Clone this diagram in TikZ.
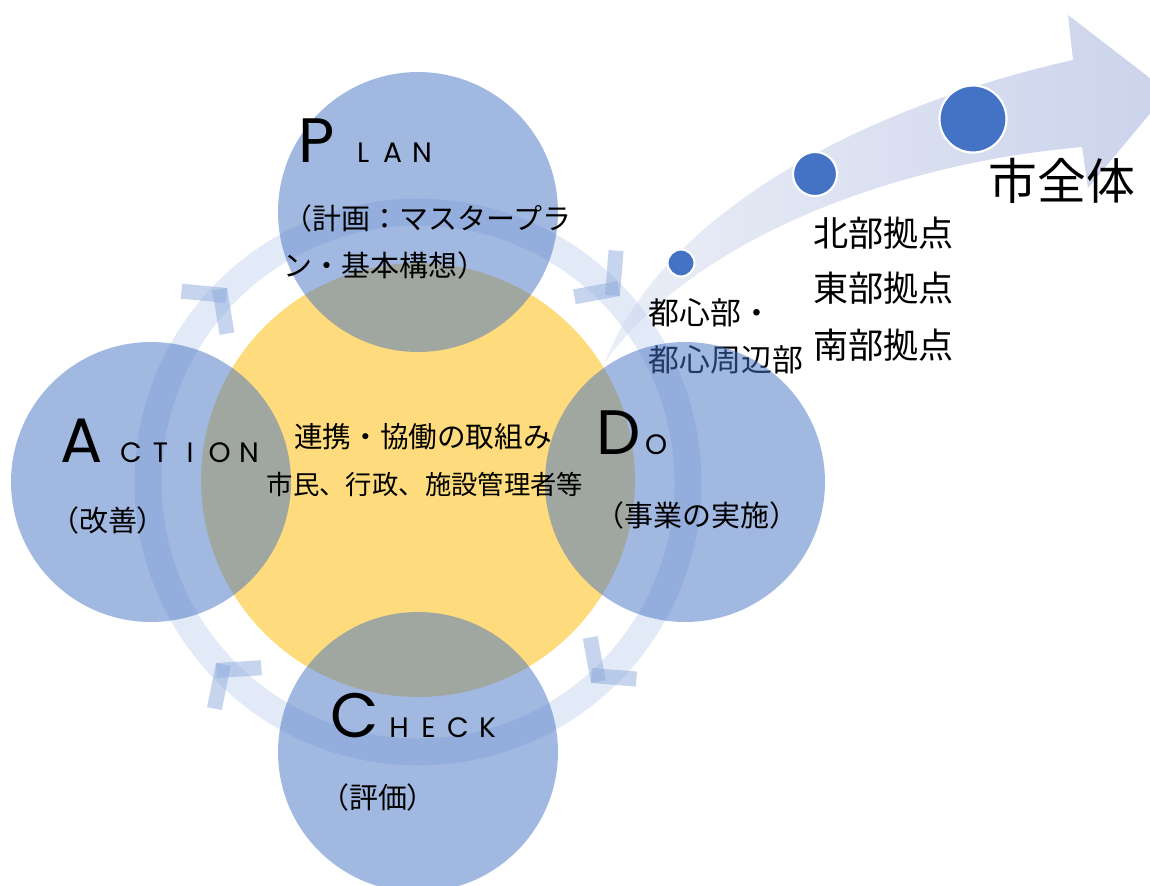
\documentclass[tikz,border=0pt]{standalone}
\usepackage{fontspec}
\setmainfont{Noto Sans CJK JP}
\newfontfamily\jpfont{Noto Sans CJK JP}
\newfontfamily\latfont{Poppins}
\definecolor{cblue}{RGB}{68,114,196}
\definecolor{cyellow}{RGB}{254,219,124}
\definecolor{cring}{RGB}{193,209,237}
\definecolor{cchev}{RGB}{142,170,220}
\definecolor{carrowA}{RGB}{234,238,247}
\definecolor{carrowB}{RGB}{203,211,235}
\newcommand\trkbox[1]{\makebox[0.59cm][c]{#1}}
\tikzset{
  chev/.pic={
    \fill[cchev,fill opacity=0.5] (0,0) -- (-0.548cm,0.714cm) -- (-0.786cm,0.531cm) -- (-0.238cm,-0.183cm) -- cycle;
    \fill[cchev,fill opacity=0.5] (0,0) -- (-0.548cm,-0.714cm) -- (-0.786cm,-0.531cm) -- (-0.238cm,0.183cm) -- cycle;
  },
  bluecirc/.style={fill=cblue,fill opacity=0.5},
  dotc/.style={fill=cblue,draw=white,line width=1.2pt},
  jp/.style={inner sep=0pt,font=\jpfont\fontsize{16.5}{20}\selectfont,text=black},
  jpbig/.style={inner sep=0pt,font=\jpfont\fontsize{20}{24}\selectfont,text=black},
  bigL/.style={inner sep=0pt,font=\latfont\fontsize{35.7}{40}\selectfont,text=black},
  smallL/.style={inner sep=0pt,font=\latfont\fontsize{16}{20}\selectfont,text=black},
}
\begin{document}
\begin{tikzpicture}[x=0.02cm,y=-0.02cm]
\useasboundingbox (0,0) rectangle (1150,886);
% big arrow
\path[left color=carrowA,right color=carrowB]
  (605,362) .. controls (660,220) and (850,110) .. (1073,60)
  -- (1068,15) -- (1168,92) -- (1088,188) -- (1082,147)
  .. controls (880,165) and (690,245) .. (605,362) -- cycle;
% ring
\draw[cring,draw opacity=0.45,line width=15.3pt] (418,482) circle[radius=5.4cm];
% chevrons
\pic[rotate=47] at (227,288) {chev};
\pic[rotate=-42] at (620,296) {chev};
\pic[rotate=-132] at (591,683) {chev};
\pic[rotate=131] at (216,663) {chev};
% text under circles
\node[jp,font=\jpfont\fontsize{17.6}{20}\selectfont,anchor=west] (t1) at (648,313) {都心部・};
\node[jp,font=\jpfont\fontsize{17.6}{20}\selectfont,anchor=west] (t2) at (648,360) {都心周辺部};
% yellow circle
\fill[cyellow] (418,480) circle[radius=4.34cm];
% blue circles
\fill[bluecirc] (418,212) circle[radius=2.8cm];
\fill[bluecirc] (151,482) circle[radius=2.8cm];
\fill[bluecirc] (685,482) circle[radius=2.8cm];
\fill[bluecirc] (418,752) circle[radius=2.8cm];
% dots on arrow
\filldraw[dotc] (681,263) circle[radius=0.27cm];
\filldraw[dotc] (815,174) circle[radius=0.44cm];
\filldraw[dotc] (973,119) circle[radius=0.67cm];
% right labels
\node[jpbig,anchor=west] (n1) at (813,233) {北部拠点};
\node[jpbig,anchor=west] (n2) at (813,288) {東部拠点};
\node[jpbig,anchor=west] (n3) at (813,345) {南部拠点};
\node[jp,font=\jpfont\fontsize{27.8}{30}\selectfont,anchor=west] (all) at (988,181) {市全体};
% PDCA letters
\node[bigL,anchor=base] (bP) at (317,162) {P};
\node[smallL,anchor=base west] (sP) at (348,162) {\trkbox{L}\trkbox{A}\trkbox{N}};
\node[bigL,anchor=base] (bA) at (82,462) {A};
\node[smallL,anchor=base west] (sA) at (116,462) {\trkbox{C}\trkbox{T}\trkbox{I}\trkbox{O}\trkbox{N}};
\node[bigL,anchor=base] (bD) at (619,454) {D};
\node[smallL,anchor=base west] (sD) at (641,454) {\trkbox{O}};
\node[bigL,anchor=base] (bC) at (355,737) {C};
\node[smallL,anchor=base west] (sC) at (384,737) {\trkbox{H}\trkbox{E}\trkbox{C}\trkbox{K}};
% Japanese labels
\node[jp,anchor=west] (pl1) at (283,218) {（計画：マスタープラ};
\node[jp,anchor=west] (pl2) at (283,265) {ン・基本構想）};
\node[jp] (al) at (108,520) {（改善）};
\node[jp] (dl) at (697,515) {（事業の実施）};
\node[jp] (cl) at (378,797) {（評価）};
\node[jp,font=\jpfont\fontsize{16.3}{20}\selectfont] (m1) at (423,437) {連携・協働の取組み};
\node[jp,font=\jpfont\fontsize{15}{20}\selectfont] (m2) at (425,484) {市民、行政、施設管理者等};
\end{tikzpicture}
\end{document}
